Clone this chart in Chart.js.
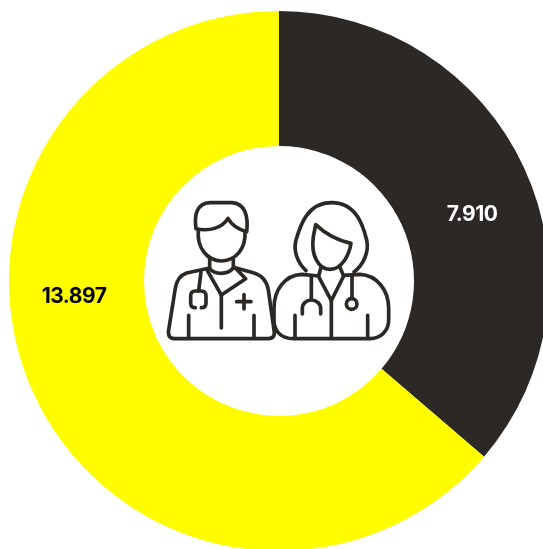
<!DOCTYPE html>
<html>
<head>
<meta charset="utf-8">
<script src="https://cdn.jsdelivr.net/npm/chart.js@4/dist/chart.umd.min.js"></script>
<style>
  html, body { margin: 0; padding: 0; background: #fff; width: 543px; height: 549px; overflow: hidden; }
  #wrap { position: relative; width: 543px; height: 549px; overflow: hidden; }
  #donut { position: absolute; left: 9px; top: 10.5px; }
  #icon { position: absolute; left: 150px; top: 180px; width: 260px; height: 180px; }
  #icon path, #icon circle { fill: none; stroke: #2b2825; stroke-width: 11; stroke-linecap: round; stroke-linejoin: round; }
</style>
</head>
<body>
<div id="wrap">
  <canvas id="donut" width="540" height="540"></canvas>
  <svg id="icon" viewBox="0 0 780 540">
    <!-- doctor -->
    <path d="M138 146 C132 105 140 70 180 68 L246 68 C284 70 296 108 290 155 C265 148 245 135 234 115 C218 142 180 156 138 146 Z"/>
    <path d="M145 150 C140 205 172 242 215 243 C258 242 288 205 285 155"/>
    <path d="M179 238 L179 264 L110 279 C92 285 80 300 76 325 L56 450 C53 468 60 476 75 476 L355 476 C370 476 376 466 372 450 L355 330 C350 300 335 285 310 278 L250 262 L250 238"/>
    <path d="M179 266 C195 285 232 285 250 264"/>
    <path d="M172 272 L214 345 L287 296 L256 264"/>
    <path d="M214 345 L214 444"/>
    <path d="M116 406 L116 474 M312 406 L312 474"/>
    <path d="M153 276 L146 332"/>
    <path d="M136 333 L154 333 C165 333 168 340 168 348 L168 368 C168 378 162 383 154 383 M136 383 C128 383 122 378 122 368 L122 348 C122 340 126 333 136 333"/>
    <path d="M282 344 L282 387 M260 365 L303 365"/>
    <!-- nurse -->
    <path d="M468 272 C440 245 430 210 438 180 C450 140 470 68 545 68 C620 68 640 140 650 180 C658 215 640 255 612 276"/>
    <path d="M497 134 C530 165 565 182 603 190 C598 225 575 268 540 268 C505 268 482 225 490 170 Z"/>
    <path d="M513 262 L506 288 L455 283 C405 285 372 330 372 385 L372 420 C372 455 395 476 430 476 L660 476 C695 476 716 450 716 420 L716 385 C716 330 680 285 630 283 L580 286 L570 262"/>
    <path d="M506 290 L544 362 L581 288"/>
    <path d="M544 362 L544 472"/>
    <path d="M484 288 L484 358 M606 288 L606 354"/>
    <path d="M457 402 L457 385 C457 370 470 360 484 360 C498 360 512 370 512 385 L512 402"/>
    <circle cx="605" cy="372" r="16"/>
    <path d="M435 406 L435 474 M653 406 L653 474"/>
  </svg>
</div>
<script>
const categories = ['Segment A', 'Segment B'];
const seriesValues = [7910, 13897];
const valueLabels = ['7.910', '13.897'];
const sliceColors = ['#2b2825', '#fffc00'];
const labelColors = ['#ffffff', '#000000'];
const labelCenters = [[463, 203.5], [65, 285.5]];

const sliceLabels = {
    id: 'sliceLabels',
    afterDatasetsDraw(chart) {
        const ctx = chart.ctx;
        ctx.save();
        ctx.font = '700 21px Inter, Roboto, sans-serif';
        ctx.letterSpacing = '-0.5px';
        ctx.textAlign = 'center';
        ctx.textBaseline = 'middle';
        valueLabels.forEach((label, i) => {
            ctx.fillStyle = labelColors[i];
            ctx.fillText(label, labelCenters[i][0], labelCenters[i][1]);
        });
        ctx.restore();
    }
};

new Chart(document.getElementById('donut').getContext('2d'), {
    type: 'doughnut',
    data: {
        labels: categories,
        datasets: [{
            data: seriesValues,
            backgroundColor: sliceColors,
            borderWidth: 0
        }]
    },
    options: {
        responsive: false,
        animation: false,
        cutout: '50%',
        layout: { padding: 0 },
        plugins: {
            legend: { display: false },
            tooltip: { enabled: false }
        }
    },
    plugins: [sliceLabels]
});
</script>
</body>
</html>
